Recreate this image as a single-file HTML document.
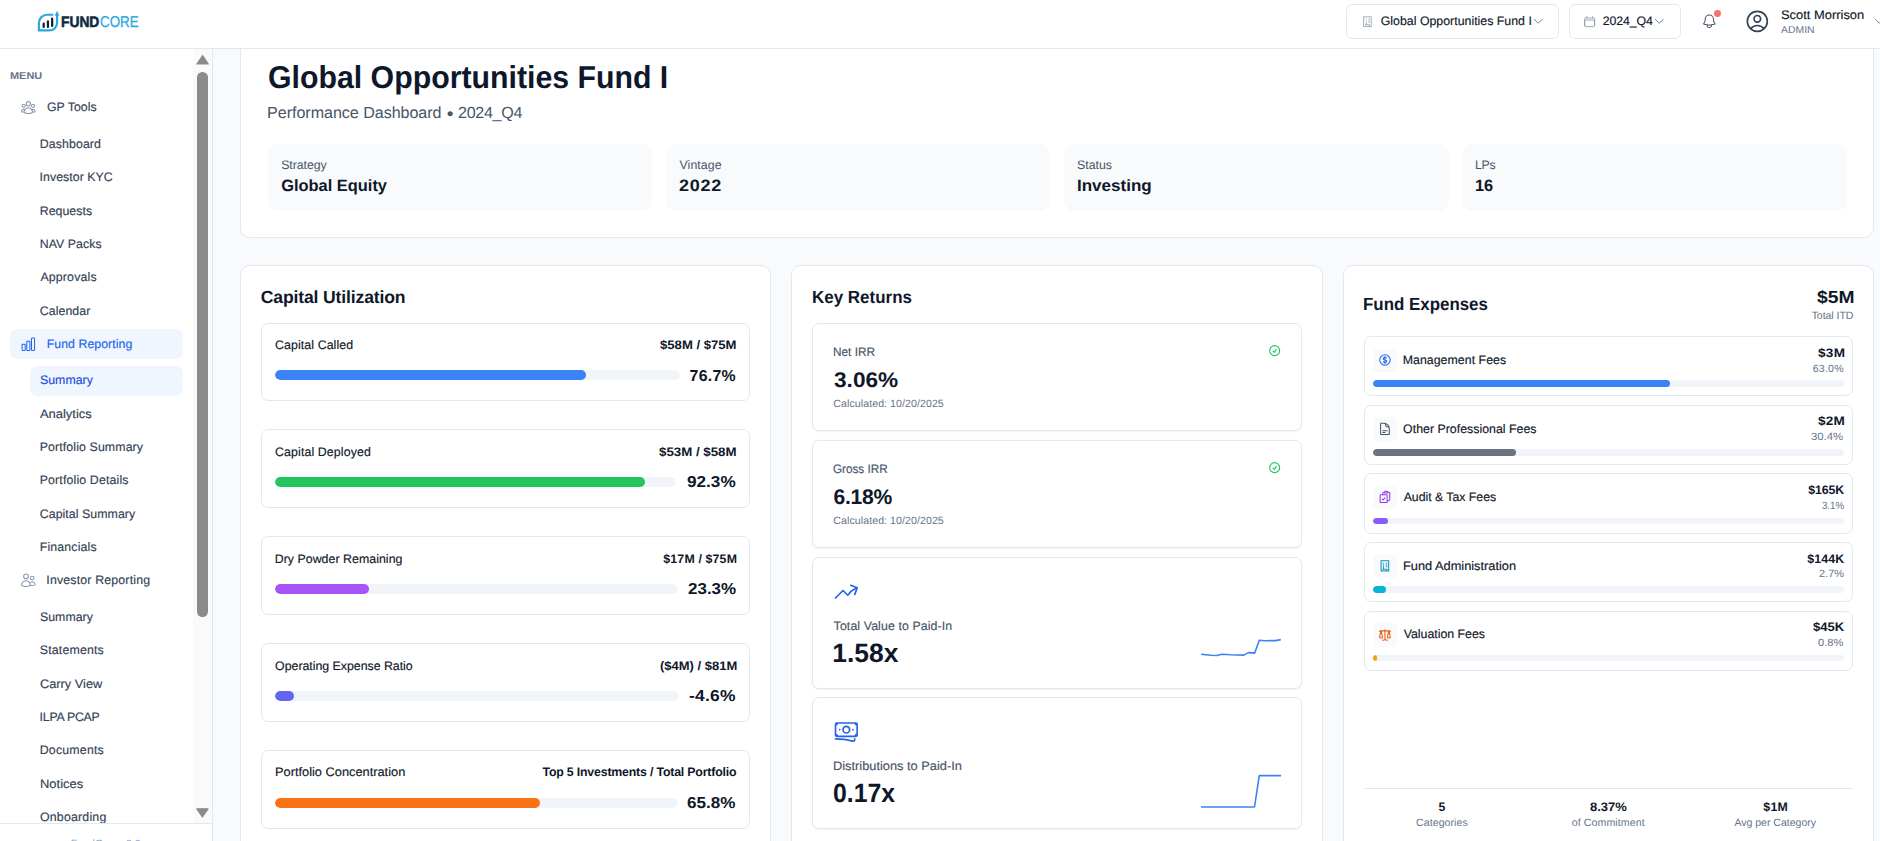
<!DOCTYPE html>
<html lang="en"><head><meta charset="utf-8"><title>FundCore - Fund Reporting Summary</title>
<style>
*{box-sizing:border-box;margin:0;padding:0}
html,body{width:1880px;height:841px;overflow:hidden;background:#f8fafc;font-family:"Liberation Sans",sans-serif;text-rendering:geometricPrecision}
.a{position:absolute}
.t{position:absolute;white-space:nowrap;line-height:1;z-index:5;transform-origin:0 0}
.bx{position:absolute;background:#fff;border:1px solid #e2e8f0}
.tr{position:absolute;background:#f1f5f9;border-radius:99px;overflow:hidden}
.tr i{display:block;height:100%;border-radius:99px}
svg{position:absolute;overflow:visible}
#hdr{left:0;top:0;width:1880px;height:49px;background:#fff;border-bottom:1px solid #e2e8f0;z-index:3}
#side{left:0;top:49px;width:213px;height:792px;background:#fff;border-right:1px solid #e2e8f0;z-index:2}
</style></head><body>

<div class="bx" style="left:240px;top:-20px;width:1634px;height:258px;border-radius:10px"></div>
<div class="a" style="left:268px;top:144px;width:384px;height:67px;background:#f8fafc;border-radius:10px"></div>
<div class="a" style="left:666px;top:144px;width:384px;height:67px;background:#f8fafc;border-radius:10px"></div>
<div class="a" style="left:1064px;top:144px;width:385px;height:67px;background:#f8fafc;border-radius:10px"></div>
<div class="a" style="left:1462px;top:144px;width:385px;height:67px;background:#f8fafc;border-radius:10px"></div>
<div class="bx" style="left:240px;top:265px;width:531px;height:620px;border-radius:10px"></div>
<div class="bx" style="left:791px;top:265px;width:532px;height:620px;border-radius:10px"></div>
<div class="bx" style="left:1343px;top:265px;width:531px;height:620px;border-radius:10px"></div>
<div class="bx" style="left:261px;top:323px;width:489px;height:78px;border-radius:7px"></div>
<div class="tr" style="left:275px;top:370px;width:404.9px;height:10px"><i style="width:76.7%;background:#3b82f6"></i></div>
<div class="bx" style="left:261px;top:429px;width:489px;height:79px;border-radius:7px"></div>
<div class="tr" style="left:275px;top:477px;width:401.4px;height:10px"><i style="width:92.3%;background:#22c55e"></i></div>
<div class="bx" style="left:261px;top:536px;width:489px;height:79px;border-radius:7px"></div>
<div class="tr" style="left:275px;top:584px;width:402.6px;height:10px"><i style="width:23.3%;background:#a855f7"></i></div>
<div class="bx" style="left:261px;top:643px;width:489px;height:79px;border-radius:7px"></div>
<div class="tr" style="left:275px;top:691px;width:404.4px;height:10px"><i style="width:4.6%;background:#6366f1"></i></div>
<div class="bx" style="left:261px;top:750px;width:489px;height:79px;border-radius:7px"></div>
<div class="tr" style="left:275px;top:798px;width:402.6px;height:10px"><i style="width:65.8%;background:#f97316"></i></div>
<div class="bx" style="left:812px;top:323px;width:490px;height:108px;border-radius:7px;box-shadow:0 1px 2px rgba(15,23,42,.05)"></div>
<div class="bx" style="left:812px;top:440px;width:490px;height:108px;border-radius:7px;box-shadow:0 1px 2px rgba(15,23,42,.05)"></div>
<div class="bx" style="left:812px;top:557px;width:490px;height:132px;border-radius:7px;box-shadow:0 1px 2px rgba(15,23,42,.05)"></div>
<div class="bx" style="left:812px;top:697px;width:490px;height:132px;border-radius:7px;box-shadow:0 1px 2px rgba(15,23,42,.05)"></div>
<div class="bx" style="left:1364px;top:336px;width:489px;height:60px;border-radius:7px"></div>
<div class="a" style="left:1373px;top:349px;width:24px;height:23px;border-radius:4px;background:#f8fafc"></div>
<div class="tr" style="left:1373.2px;top:380.4px;width:471px;height:6.7px"><i style="width:63.0%;background:#3b82f6"></i></div>
<div class="bx" style="left:1364px;top:405px;width:489px;height:60px;border-radius:7px"></div>
<div class="a" style="left:1373px;top:417px;width:24px;height:24px;border-radius:4px;background:#f8fafc"></div>
<div class="tr" style="left:1373.2px;top:449.0px;width:471px;height:6.7px"><i style="width:30.4%;background:#6b7280"></i></div>
<div class="bx" style="left:1364px;top:473px;width:489px;height:61px;border-radius:7px"></div>
<div class="a" style="left:1373px;top:486px;width:24px;height:23px;border-radius:4px;background:#f8fafc"></div>
<div class="tr" style="left:1373.2px;top:517.5px;width:471px;height:6.7px"><i style="width:3.1%;background:#8b5cf6"></i></div>
<div class="bx" style="left:1364px;top:542px;width:489px;height:60px;border-radius:7px"></div>
<div class="a" style="left:1373px;top:554px;width:24px;height:24px;border-radius:4px;background:#f8fafc"></div>
<div class="tr" style="left:1373.2px;top:586.1px;width:471px;height:6.7px"><i style="width:2.7%;background:#06b6d4"></i></div>
<div class="bx" style="left:1364px;top:611px;width:489px;height:60px;border-radius:7px"></div>
<div class="a" style="left:1373px;top:623px;width:24px;height:24px;border-radius:4px;background:#f8fafc"></div>
<div class="tr" style="left:1373.2px;top:654.6px;width:471px;height:6.7px"><i style="width:0.8%;background:#f59e0b"></i></div>
<div class="a" style="left:1364.2px;top:788px;width:489px;height:1px;background:#e2e8f0"></div>
<svg style="left:32px;top:6px;z-index:4" width="32" height="32" viewBox="32 6 32 32" fill="none">
<path d="M53.3 14.7H47.2C42.6 14.7 38.9 18.4 38.9 23V30.4H49.5C53.7 30.4 57.1 27 57.1 22.8V15" stroke="#2aa7df" stroke-width="2.15" stroke-linecap="butt" stroke-linejoin="miter"/>
<path d="M57 10.7L59.3 15.7H54.7Z" fill="#2aa7df"/>
<path d="M43.7 23.6V26.9M47.95 21.4V26.9M52.15 18.7V25.9" stroke="#0b2137" stroke-width="2.25" stroke-linecap="round"/>
</svg>
<svg style="left:1360.75px;top:14.80px;z-index:4" width="13.33" height="13.33" viewBox="0 0 24 24" fill="none" stroke="#8a97ab" stroke-width="1.4" stroke-linecap="round" stroke-linejoin="round"><path d="M5.3 3.2h13.2v17.6H5.3zM9 7.2h.8M9 10.6h.8M14 7.2h1.4M14 10.4h1.4M14 13.4h1.4M9.6 13.4v3.6M8 17.6h7.4v3"/></svg>
<svg style="left:1531.55px;top:15.25px;z-index:4" width="12.6" height="12.6" viewBox="0 0 24 24" fill="none" stroke="#64748b" stroke-width="1.7" stroke-linecap="round" stroke-linejoin="round"><path d="M19.5 8.25l-7.5 7.5-7.5-7.5"/></svg>
<svg style="left:1582.80px;top:15.40px;z-index:4" width="13.33" height="13.33" viewBox="0 0 24 24" fill="none" stroke="#8a97ab" stroke-width="1.5" stroke-linecap="round" stroke-linejoin="round"><path d="M6.75 3v2.25M17.25 3v2.25M3 18.75V7.5a2.25 2.25 0 012.25-2.25h13.5A2.25 2.25 0 0121 7.5v11.25m-18 0A2.25 2.25 0 005.25 21h13.5A2.25 2.25 0 0021 18.75m-18 0v-7.5A2.25 2.25 0 015.25 9h13.5A2.25 2.25 0 0121 11.25v7.5"/></svg>
<svg style="left:1653.25px;top:15.25px;z-index:4" width="12.6" height="12.6" viewBox="0 0 24 24" fill="none" stroke="#64748b" stroke-width="1.7" stroke-linecap="round" stroke-linejoin="round"><path d="M19.5 8.25l-7.5 7.5-7.5-7.5"/></svg>
<svg style="left:1701.00px;top:12.50px;z-index:4" width="16.67" height="16.67" viewBox="0 0 24 24" fill="none" stroke="#475569" stroke-width="1.5" stroke-linecap="round" stroke-linejoin="round"><path d="M14.857 17.082a23.848 23.848 0 005.454-1.31A8.967 8.967 0 0118 9.75v-.7V9A6 6 0 006 9v.75a8.967 8.967 0 01-2.312 6.022c1.733.64 3.56 1.085 5.455 1.31m5.714 0a24.255 24.255 0 01-5.714 0m5.714 0a3 3 0 11-5.714 0"/></svg>
<div class="a" style="left:1714.2px;top:10px;width:6.9px;height:6.9px;border-radius:50%;background:#f87171;z-index:4"></div>
<svg style="left:1744.20px;top:7.90px;z-index:4" width="26.67" height="26.67" viewBox="0 0 24 24" fill="none" stroke="#334155" stroke-width="1.5" stroke-linecap="round" stroke-linejoin="round"><path d="M17.982 18.725A7.488 7.488 0 0012 15.75a7.488 7.488 0 00-5.982 2.975m11.963 0a9 9 0 10-11.963 0m11.963 0A8.966 8.966 0 0112 21a8.966 8.966 0 01-5.982-2.275M15 9.75a3 3 0 11-6 0 3 3 0 016 0z"/></svg>
<svg style="left:1873.00px;top:15.25px;z-index:4" width="12.6" height="12.6" viewBox="0 0 24 24" fill="none" stroke="#64748b" stroke-width="1.7" stroke-linecap="round" stroke-linejoin="round"><path d="M19.5 8.25l-7.5 7.5-7.5-7.5"/></svg>
<svg style="left:20.17px;top:98.90px;z-index:4" width="16.67" height="16.67" viewBox="0 0 24 24" fill="none" stroke="#8a97ab" stroke-width="1.5" stroke-linecap="round" stroke-linejoin="round"><path d="M18 18.72a9.094 9.094 0 003.741-.479 3 3 0 00-4.682-2.72m.94 3.198l.001.031c0 .225-.012.447-.037.666A11.944 11.944 0 0112 21c-2.17 0-4.207-.576-5.963-1.584A6.062 6.062 0 016 18.719m12 0a5.971 5.971 0 00-.941-3.197m0 0A5.995 5.995 0 0012 12.75a5.995 5.995 0 00-5.058 2.772m0 0a3 3 0 00-4.681 2.72 8.986 8.986 0 003.74.477m.94-3.197a5.971 5.971 0 00-.94 3.197M15 6.75a3 3 0 11-6 0 3 3 0 016 0zm6 3a2.25 2.25 0 11-4.5 0 2.25 2.25 0 014.5 0zm-13.5 0a2.25 2.25 0 11-4.5 0 2.25 2.25 0 014.5 0z"/></svg>
<svg style="left:19.90px;top:335.60px;z-index:4" width="16.67" height="16.67" viewBox="0 0 24 24" fill="none" stroke="#2563eb" stroke-width="1.5" stroke-linecap="round" stroke-linejoin="round"><path d="M3 13.125C3 12.504 3.504 12 4.125 12h2.25c.621 0 1.125.504 1.125 1.125v6.75C7.5 20.496 6.996 21 6.375 21h-2.25A1.125 1.125 0 013 19.875v-6.75zM9.75 8.625c0-.621.504-1.125 1.125-1.125h2.25c.621 0 1.125.504 1.125 1.125v11.25c0 .621-.504 1.125-1.125 1.125h-2.25a1.125 1.125 0 01-1.125-1.125V8.625zM16.5 4.125c0-.621.504-1.125 1.125-1.125h2.25C20.496 3 21 3.504 21 4.125v15.75c0 .621-.504 1.125-1.125 1.125h-2.25a1.125 1.125 0 01-1.125-1.125V4.125z"/></svg>
<svg style="left:20.00px;top:572.00px;z-index:4" width="16.67" height="16.67" viewBox="0 0 24 24" fill="none" stroke="#8a97ab" stroke-width="1.5" stroke-linecap="round" stroke-linejoin="round"><path d="M15 19.128a9.38 9.38 0 002.625.372 9.337 9.337 0 004.121-.952 4.125 4.125 0 00-7.533-2.493M15 19.128v-.003c0-1.113-.285-2.16-.786-3.07M15 19.128v.106A12.318 12.318 0 018.624 21c-2.331 0-4.512-.645-6.374-1.766l-.001-.109a6.375 6.375 0 0111.964-3.07M12 6.375a3.375 3.375 0 11-6.75 0 3.375 3.375 0 016.75 0zm8.25 2.25a2.625 2.625 0 11-5.25 0 2.625 2.625 0 015.25 0z"/></svg>
<svg style="left:1267.80px;top:343.90px;z-index:4" width="13.33" height="13.33" viewBox="0 0 24 24" fill="none" stroke="#22c55e" stroke-width="2.0" stroke-linecap="round" stroke-linejoin="round"><path d="M9 12.75L11.25 15 15 9.75M21 12a9 9 0 11-18 0 9 9 0 0118 0z"/></svg>
<svg style="left:1267.80px;top:460.90px;z-index:4" width="13.33" height="13.33" viewBox="0 0 24 24" fill="none" stroke="#22c55e" stroke-width="2.0" stroke-linecap="round" stroke-linejoin="round"><path d="M9 12.75L11.25 15 15 9.75M21 12a9 9 0 11-18 0 9 9 0 0118 0z"/></svg>
<svg style="left:832.90px;top:578.00px;z-index:4" width="26.67" height="26.67" viewBox="0 0 24 24" fill="none" stroke="#2563eb" stroke-width="1.5" stroke-linecap="round" stroke-linejoin="round"><path d="M2.25 18L9 11.25l4.306 4.307a11.95 11.95 0 015.814-5.519l2.74-1.22m0 0l-5.94-2.28m5.94 2.28l-2.28 5.941"/></svg>
<svg style="left:832.90px;top:718.00px;z-index:4" width="26.67" height="26.67" viewBox="0 0 24 24" fill="none" stroke="#2563eb" stroke-width="1.5" stroke-linecap="round" stroke-linejoin="round"><path d="M2.25 18.75a60.07 60.07 0 0115.797 2.101c.727.198 1.453-.342 1.453-1.096V18.75M3.75 4.5v.75A.75.75 0 013 6h-.75m0 0v-.375c0-.621.504-1.125 1.125-1.125H20.25M2.25 6v9m18-10.5v.75c0 .414.336.75.75.75h.75m-1.5-1.5h.375c.621 0 1.125.504 1.125 1.125v9.75c0 .621-.504 1.125-1.125 1.125h-.375m1.5-1.5H21a.75.75 0 00-.75.75v.75m0 0H3.75m0 0h-.375a1.125 1.125 0 01-1.125-1.125V15m1.5 1.5v-.75A.75.75 0 003 15h-.75M15 10.5a3 3 0 11-6 0 3 3 0 016 0zm3 0h.008v.008H18V10.5zm-12 0h.008v.008H6V10.5z"/></svg>
<svg style="left:1195px;top:630px;z-index:4" width="92" height="40" viewBox="1195 630 92 40" fill="none" stroke="#3b82f6" stroke-width="1.6" stroke-linejoin="round"><path d="M1201.1 654.3L1211.1 655.3L1216.6 655.5L1222.2 654.3L1230.4 654.8L1243.8 655.1L1248.5 652.6L1254.7 653.1L1259.3 640.3L1264.9 640.7L1275.4 640.6L1280.8 639.6"/></svg>
<svg style="left:1195px;top:770px;z-index:4" width="92" height="42" viewBox="1195 770 92 42" fill="none" stroke="#3b82f6" stroke-width="1.6" stroke-linejoin="round"><path d="M1201 807L1254.5 807L1259.3 775.6L1281 775.6"/></svg>
<svg style="left:1377.75px;top:353.35px;z-index:4" width="13.9" height="13.9" viewBox="0 0 24 24" fill="none" stroke="#2563eb" stroke-width="1.8" stroke-linecap="round" stroke-linejoin="round"><path d="M12 6v12m-3-2.818l.879.659c1.171.879 3.07.879 4.242 0 1.172-.879 1.172-2.303 0-3.182C13.536 12.219 12.768 12 12 12c-.725 0-1.45-.22-2.003-.659-1.106-.879-1.106-2.303 0-3.182s2.9-.879 4.006 0l.415.33M21 12a9 9 0 11-18 0 9 9 0 0118 0z"/></svg>
<svg style="left:1377.75px;top:421.90px;z-index:4" width="13.9" height="13.9" viewBox="0 0 24 24" fill="none" stroke="#475569" stroke-width="1.8" stroke-linecap="round" stroke-linejoin="round"><path d="M19.5 14.25v-2.625a3.375 3.375 0 00-3.375-3.375h-1.5A1.125 1.125 0 0113.5 7.125v-1.5a3.375 3.375 0 00-3.375-3.375H8.25m0 12.75h7.5m-7.5 3H12M10.5 2.25H5.625c-.621 0-1.125.504-1.125 1.125v17.25c0 .621.504 1.125 1.125 1.125h12.75c.621 0 1.125-.504 1.125-1.125V11.25a9 9 0 00-9-9z"/></svg>
<svg style="left:1377.75px;top:490.45px;z-index:4" width="13.9" height="13.9" viewBox="0 0 24 24" fill="none" stroke="#9333ea" stroke-width="1.8" stroke-linecap="round" stroke-linejoin="round"><path d="M11.35 3.836c-.065.21-.1.433-.1.664 0 .414.336.75.75.75h4.5a.75.75 0 00.75-.75 2.25 2.25 0 00-.1-.664m-5.8 0A2.251 2.251 0 0113.5 2.25H15c1.012 0 1.867.668 2.15 1.586m-5.8 0c-.376.023-.75.05-1.124.08C9.095 4.01 8.25 4.973 8.25 6.108V8.25m8.9-4.414c.376.023.75.05 1.124.08 1.131.094 1.976 1.057 1.976 2.192V16.5A2.25 2.25 0 0118 18.75h-2.25m-7.5-10.5H4.875c-.621 0-1.125.504-1.125 1.125v11.25c0 .621.504 1.125 1.125 1.125h9.75c.621 0 1.125-.504 1.125-1.125V18.75m-7.5-10.5h6.375c.621 0 1.125.504 1.125 1.125v9.375m-8.25-3l1.5 1.5 3-3.75"/></svg>
<svg style="left:1377.75px;top:559.00px;z-index:4" width="13.9" height="13.9" viewBox="0 0 24 24" fill="none" stroke="#0891b2" stroke-width="1.8" stroke-linecap="round" stroke-linejoin="round"><path d="M5.3 3.2h13.2v17.6H5.3zM9 7.2h.8M9 10.6h.8M14 7.2h1.4M14 10.4h1.4M14 13.4h1.4M9.6 13.4v3.6M8 17.6h7.4v3"/></svg>
<svg style="left:1377.75px;top:627.55px;z-index:4" width="13.9" height="13.9" viewBox="0 0 24 24" fill="none" stroke="#ea580c" stroke-width="1.8" stroke-linecap="round" stroke-linejoin="round"><path d="M12 3v17.25m0 0c-1.472 0-2.882.265-4.185.75M12 20.25c1.472 0 2.882.265 4.185.75M18.75 4.97A48.416 48.416 0 0012 4.5c-2.291 0-4.545.16-6.75.47m13.5 0c1.01.143 2.01.317 3 .52m-3-.52l2.62 10.726c.122.499-.106 1.028-.589 1.202a5.988 5.988 0 01-2.031.352 5.988 5.988 0 01-2.031-.352c-.483-.174-.711-.703-.59-1.202L18.75 4.971zm-16.5.52c.99-.203 1.99-.377 3-.52m0 0l2.62 10.726c.122.499-.106 1.028-.589 1.202a5.989 5.989 0 01-2.031.352 5.989 5.989 0 01-2.031-.352c-.483-.174-.711-.703-.59-1.202L5.25 4.971z"/></svg>
<div id="side" class="a">
<div class="a" style="left:193px;top:0;width:19px;height:774px;background:#fafafa"></div>
<div class="a" style="left:0;top:774px;width:212px;height:1px;background:#e2e8f0"></div>
<div class="a" style="left:197.2px;top:23px;width:10.8px;height:545px;border-radius:5.4px;background:#8b8b8b"></div>
<svg style="left:193px;top:0" width="19" height="774"><path d="M9.6 6.6 L15.3 15 L3.9 15 Z" fill="#8b8b8b" stroke="#8b8b8b" stroke-width="1.2" stroke-linejoin="round"/><path d="M9.4 768 L15 759.8 L3.8 759.8 Z" fill="#8b8b8b" stroke="#8b8b8b" stroke-width="1.2" stroke-linejoin="round"/></svg>
<div class="a" style="left:10px;top:280px;width:173.2px;height:29.8px;border-radius:7px;background:#eff6ff"></div>
<div class="a" style="left:30px;top:317px;width:153.2px;height:29.8px;border-radius:7px;background:#eff6ff"></div>
<!--ICONS_SIDE-->
</div>
<div id="hdr" class="a">
<div class="bx" style="left:1346.4px;top:4.2px;width:212.4px;height:34.6px;border-radius:6px"></div>
<div class="bx" style="left:1569.2px;top:4.2px;width:111.6px;height:34.6px;border-radius:6px"></div>
<!--ICONS_HDR-->
</div>
<span class="t" style="left:61.48px;top:15px;font-size:15.4px;color:#0e2a3f;font-weight:700;transform:scaleX(0.8960);-webkit-text-stroke:0.55px;">FUND</span>
<span class="t" style="left:99.92px;top:15px;font-size:15.6px;color:#2aa9e0;transform:scaleX(0.8578);-webkit-text-stroke:0.3px;">CORE</span>
<span class="t" style="left:1380.78px;top:15px;font-size:12.33px;color:#0f172a;-webkit-text-stroke:0.16px;letter-spacing:0.011px;">Global Opportunities Fund I</span>
<span class="t" style="left:1602.78px;top:15px;font-size:12.33px;color:#0f172a;-webkit-text-stroke:0.16px;letter-spacing:-0.092px;">2024_Q4</span>
<span class="t" style="left:1780.61px;top:9px;font-size:12.33px;color:#0f172a;-webkit-text-stroke:0.16px;transform:scaleX(1.0471);">Scott Morrison</span>
<span class="t" style="left:1781.18px;top:26px;font-size:10.0px;color:#64748b;transform:scaleX(1.0414);">ADMIN</span>
<span class="t" style="left:9.67px;top:72px;font-size:10.0px;color:#64748b;font-weight:700;transform:scaleX(1.0932);">MENU</span>
<span class="t" style="left:46.88px;top:101px;font-size:12.33px;color:#334155;-webkit-text-stroke:0.16px;letter-spacing:0.034px;">GP Tools</span>
<span class="t" style="left:39.74px;top:138px;font-size:12.33px;color:#334155;-webkit-text-stroke:0.16px;letter-spacing:0.112px;">Dashboard</span>
<span class="t" style="left:39.61px;top:171px;font-size:12.33px;color:#334155;-webkit-text-stroke:0.16px;letter-spacing:0.042px;">Investor KYC</span>
<span class="t" style="left:39.74px;top:205px;font-size:12.33px;color:#334155;-webkit-text-stroke:0.16px;letter-spacing:0.038px;">Requests</span>
<span class="t" style="left:39.74px;top:238px;font-size:12.33px;color:#334155;-webkit-text-stroke:0.16px;letter-spacing:0.052px;">NAV Packs</span>
<span class="t" style="left:40.38px;top:271px;font-size:12.33px;color:#334155;-webkit-text-stroke:0.16px;letter-spacing:0.174px;">Approvals</span>
<span class="t" style="left:39.77px;top:305px;font-size:12.33px;color:#334155;-webkit-text-stroke:0.16px;letter-spacing:0.079px;">Calendar</span>
<span class="t" style="left:46.69px;top:338px;font-size:12.33px;color:#2563eb;-webkit-text-stroke:0.16px;letter-spacing:0.044px;">Fund Reporting</span>
<span class="t" style="left:39.99px;top:374px;font-size:12.33px;color:#1d4ed8;-webkit-text-stroke:0.16px;letter-spacing:0.022px;">Summary</span>
<span class="t" style="left:40.37px;top:408px;font-size:12.33px;color:#334155;-webkit-text-stroke:0.16px;transform:scaleX(1.0486);">Analytics</span>
<span class="t" style="left:39.74px;top:441px;font-size:12.33px;color:#334155;-webkit-text-stroke:0.16px;letter-spacing:0.117px;">Portfolio Summary</span>
<span class="t" style="left:39.74px;top:474px;font-size:12.33px;color:#334155;-webkit-text-stroke:0.16px;letter-spacing:0.148px;">Portfolio Details</span>
<span class="t" style="left:39.77px;top:508px;font-size:12.33px;color:#334155;-webkit-text-stroke:0.16px;letter-spacing:0.061px;">Capital Summary</span>
<span class="t" style="left:39.74px;top:541px;font-size:12.33px;color:#334155;-webkit-text-stroke:0.16px;letter-spacing:0.149px;">Financials</span>
<span class="t" style="left:46.36px;top:574px;font-size:12.33px;color:#334155;-webkit-text-stroke:0.16px;letter-spacing:0.173px;">Investor Reporting</span>
<span class="t" style="left:39.99px;top:611px;font-size:12.33px;color:#334155;-webkit-text-stroke:0.16px;letter-spacing:0.022px;">Summary</span>
<span class="t" style="left:39.84px;top:644px;font-size:12.33px;color:#334155;-webkit-text-stroke:0.16px;letter-spacing:0.172px;">Statements</span>
<span class="t" style="left:39.75px;top:678px;font-size:12.33px;color:#334155;-webkit-text-stroke:0.16px;transform:scaleX(1.0359);">Carry View</span>
<span class="t" style="left:39.61px;top:711px;font-size:12.33px;color:#334155;-webkit-text-stroke:0.16px;letter-spacing:-0.244px;">ILPA PCAP</span>
<span class="t" style="left:39.74px;top:744px;font-size:12.33px;color:#334155;-webkit-text-stroke:0.16px;letter-spacing:0.212px;">Documents</span>
<span class="t" style="left:39.69px;top:778px;font-size:12.33px;color:#334155;-webkit-text-stroke:0.16px;transform:scaleX(1.0491);">Notices</span>
<span class="t" style="left:39.97px;top:811px;font-size:12.33px;color:#334155;-webkit-text-stroke:0.16px;letter-spacing:0.205px;">Onboarding</span>
<span class="t" style="left:267.51px;top:62px;font-size:31.7px;color:#0f172a;font-weight:700;transform:scaleX(0.9554);">Global Opportunities Fund I</span>
<span class="t" style="left:267.08px;top:105px;font-size:16.1px;color:#475569;letter-spacing:-0.044px;">Performance Dashboard</span>
<span class="t" style="left:446.77px;top:105px;font-size:19.0px;color:#475569;">•</span>
<span class="t" style="left:457.99px;top:105px;font-size:16.1px;color:#475569;letter-spacing:-0.292px;">2024_Q4</span>
<span class="t" style="left:281.14px;top:159px;font-size:12.33px;color:#475569;letter-spacing:-0.048px;">Strategy</span>
<span class="t" style="left:281.23px;top:178px;font-size:16.4px;color:#0f172a;font-weight:700;letter-spacing:0.010px;">Global Equity</span>
<span class="t" style="left:679.45px;top:159px;font-size:12.33px;color:#475569;letter-spacing:0.101px;">Vintage</span>
<span class="t" style="left:679.07px;top:178px;font-size:16.4px;color:#0f172a;font-weight:700;letter-spacing:0.676px;transform:scaleX(1.1000);">2022</span>
<span class="t" style="left:1077.04px;top:159px;font-size:12.33px;color:#475569;letter-spacing:0.010px;">Status</span>
<span class="t" style="left:1076.66px;top:178px;font-size:16.4px;color:#0f172a;font-weight:700;transform:scaleX(1.0379);">Investing</span>
<span class="t" style="left:1474.89px;top:159px;font-size:12.33px;color:#475569;letter-spacing:-0.197px;">LPs</span>
<span class="t" style="left:1475.07px;top:178px;font-size:16.4px;color:#0f172a;font-weight:700;letter-spacing:-0.109px;">16</span>
<span class="t" style="left:260.78px;top:289px;font-size:17.6px;color:#0f172a;font-weight:700;letter-spacing:-0.155px;">Capital Utilization</span>
<span class="t" style="left:275.07px;top:339px;font-size:12.33px;color:#0f172a;-webkit-text-stroke:0.16px;letter-spacing:0.098px;">Capital Called</span>
<span class="t" style="left:660.43px;top:339px;font-size:12.33px;color:#0f172a;font-weight:700;transform:scaleX(1.0639);">$58M / $75M</span>
<span class="t" style="left:689.52px;top:369px;font-size:15.85px;color:#0f172a;font-weight:700;letter-spacing:0.315px;">76.7%</span>
<span class="t" style="left:275.07px;top:446px;font-size:12.33px;color:#0f172a;-webkit-text-stroke:0.16px;letter-spacing:0.122px;">Capital Deployed</span>
<span class="t" style="left:659.42px;top:446px;font-size:12.33px;color:#0f172a;font-weight:700;transform:scaleX(1.0780);">$53M / $58M</span>
<span class="t" style="left:687.11px;top:475px;font-size:15.85px;color:#0f172a;font-weight:700;transform:scaleX(1.0826);">92.3%</span>
<span class="t" style="left:274.69px;top:553px;font-size:12.33px;color:#0f172a;-webkit-text-stroke:0.16px;letter-spacing:0.050px;">Dry Powder Remaining</span>
<span class="t" style="left:663.34px;top:553px;font-size:12.33px;color:#0f172a;font-weight:700;letter-spacing:0.163px;">$17M / $75M</span>
<span class="t" style="left:687.61px;top:582px;font-size:15.85px;color:#0f172a;font-weight:700;transform:scaleX(1.0712);">23.3%</span>
<span class="t" style="left:275.12px;top:660px;font-size:12.33px;color:#0f172a;-webkit-text-stroke:0.16px;letter-spacing:-0.007px;">Operating Expense Ratio</span>
<span class="t" style="left:659.65px;top:660px;font-size:12.33px;color:#0f172a;font-weight:700;transform:scaleX(1.0546);">($4M) / $81M</span>
<span class="t" style="left:689.32px;top:689px;font-size:15.85px;color:#0f172a;font-weight:700;letter-spacing:0.207px;transform:scaleX(1.1000);">-4.6%</span>
<span class="t" style="left:274.65px;top:766px;font-size:12.33px;color:#0f172a;-webkit-text-stroke:0.16px;transform:scaleX(1.0388);">Portfolio Concentration</span>
<span class="t" style="left:542.46px;top:766px;font-size:12.33px;color:#0f172a;font-weight:700;letter-spacing:-0.180px;">Top 5 Investments / Total Portfolio</span>
<span class="t" style="left:687.38px;top:796px;font-size:15.85px;color:#0f172a;font-weight:700;transform:scaleX(1.0765);">65.8%</span>
<span class="t" style="left:811.66px;top:289px;font-size:17.6px;color:#0f172a;font-weight:700;transform:scaleX(0.9642);">Key Returns</span>
<span class="t" style="left:832.93px;top:346px;font-size:12.33px;color:#475569;-webkit-text-stroke:0.16px;transform:scaleX(0.9583);">Net IRR</span>
<span class="t" style="left:833.68px;top:370px;font-size:21.1px;color:#0f172a;font-weight:700;transform:scaleX(1.0736);">3.06%</span>
<span class="t" style="left:833.36px;top:399px;font-size:10.57px;color:#64748b;letter-spacing:0.082px;">Calculated: 10/20/2025</span>
<span class="t" style="left:833.31px;top:463px;font-size:12.33px;color:#475569;-webkit-text-stroke:0.16px;transform:scaleX(0.9493);">Gross IRR</span>
<span class="t" style="left:833.43px;top:487px;font-size:21.1px;color:#0f172a;font-weight:700;letter-spacing:-0.221px;">6.18%</span>
<span class="t" style="left:833.36px;top:516px;font-size:10.57px;color:#64748b;letter-spacing:0.082px;">Calculated: 10/20/2025</span>
<span class="t" style="left:833.62px;top:620px;font-size:12.33px;color:#475569;-webkit-text-stroke:0.16px;letter-spacing:0.109px;">Total Value to Paid-In</span>
<span class="t" style="left:832.24px;top:640px;font-size:26.4px;color:#0f172a;font-weight:700;letter-spacing:0.052px;">1.58x</span>
<span class="t" style="left:832.85px;top:760px;font-size:12.33px;color:#475569;-webkit-text-stroke:0.16px;transform:scaleX(1.0391);">Distributions to Paid-In</span>
<span class="t" style="left:832.92px;top:780px;font-size:26.4px;color:#0f172a;font-weight:700;transform:scaleX(0.9381);">0.17x</span>
<span class="t" style="left:1363.07px;top:296px;font-size:17.6px;color:#0f172a;font-weight:700;transform:scaleX(0.9607);">Fund Expenses</span>
<span class="t" style="left:1816.75px;top:289px;font-size:17.6px;color:#0f172a;font-weight:700;transform:scaleX(1.0937);">$5M</span>
<span class="t" style="left:1811.66px;top:311px;font-size:10.57px;color:#64748b;letter-spacing:-0.065px;">Total ITD</span>
<span class="t" style="left:1402.69px;top:354px;font-size:12.33px;color:#0f172a;-webkit-text-stroke:0.16px;letter-spacing:0.047px;">Management Fees</span>
<span class="t" style="left:1818.02px;top:347px;font-size:12.33px;color:#0f172a;font-weight:700;letter-spacing:0.274px;transform:scaleX(1.1000);">$3M</span>
<span class="t" style="left:1812.76px;top:364px;font-size:10.57px;color:#64748b;letter-spacing:0.215px;">63.0%</span>
<span class="t" style="left:1403.12px;top:423px;font-size:12.33px;color:#0f172a;-webkit-text-stroke:0.16px;letter-spacing:0.022px;">Other Professional Fees</span>
<span class="t" style="left:1818.32px;top:415px;font-size:12.33px;color:#0f172a;font-weight:700;letter-spacing:0.138px;transform:scaleX(1.1000);">$2M</span>
<span class="t" style="left:1811.47px;top:432px;font-size:10.57px;color:#64748b;transform:scaleX(1.0729);">30.4%</span>
<span class="t" style="left:1403.68px;top:491px;font-size:12.33px;color:#0f172a;-webkit-text-stroke:0.16px;letter-spacing:-0.033px;">Audit &amp; Tax Fees</span>
<span class="t" style="left:1808.34px;top:484px;font-size:12.33px;color:#0f172a;font-weight:700;letter-spacing:-0.117px;">$165K</span>
<span class="t" style="left:1821.53px;top:501px;font-size:10.57px;color:#64748b;transform:scaleX(0.9142);">3.1%</span>
<span class="t" style="left:1402.65px;top:560px;font-size:12.33px;color:#0f172a;-webkit-text-stroke:0.16px;transform:scaleX(1.0377);">Fund Administration</span>
<span class="t" style="left:1807.34px;top:553px;font-size:12.33px;color:#0f172a;font-weight:700;letter-spacing:0.133px;">$144K</span>
<span class="t" style="left:1818.55px;top:569px;font-size:10.57px;color:#64748b;transform:scaleX(1.0401);">2.7%</span>
<span class="t" style="left:1403.65px;top:628px;font-size:12.33px;color:#0f172a;-webkit-text-stroke:0.16px;">Valuation Fees</span>
<span class="t" style="left:1813.03px;top:621px;font-size:12.33px;color:#0f172a;font-weight:700;transform:scaleX(1.0579);">$45K</span>
<span class="t" style="left:1818.27px;top:638px;font-size:10.57px;color:#64748b;transform:scaleX(1.0520);">0.8%</span>
<span class="t" style="left:1438.55px;top:801px;font-size:12.33px;color:#0f172a;font-weight:700;">5</span>
<span class="t" style="left:1416.06px;top:818px;font-size:10.57px;color:#64748b;letter-spacing:0.069px;">Categories</span>
<span class="t" style="left:1589.94px;top:801px;font-size:12.33px;color:#0f172a;font-weight:700;transform:scaleX(1.0539);">8.37%</span>
<span class="t" style="left:1571.81px;top:818px;font-size:10.57px;color:#64748b;letter-spacing:0.101px;">of Commitment</span>
<span class="t" style="left:1763.24px;top:801px;font-size:12.33px;color:#0f172a;font-weight:700;letter-spacing:0.301px;">$1M</span>
<span class="t" style="left:1734.38px;top:818px;font-size:10.57px;color:#64748b;letter-spacing:-0.025px;">Avg per Category</span>
<span class="t" style="left:70.84px;top:839px;font-size:10.57px;color:#94a3b8;z-index:8;">FundCore v2.0</span>
<div class="a" style="left:0;top:823px;width:212px;height:18px;background:#fff;border-top:1px solid #e2e8f0;z-index:7"></div>
</body></html>
